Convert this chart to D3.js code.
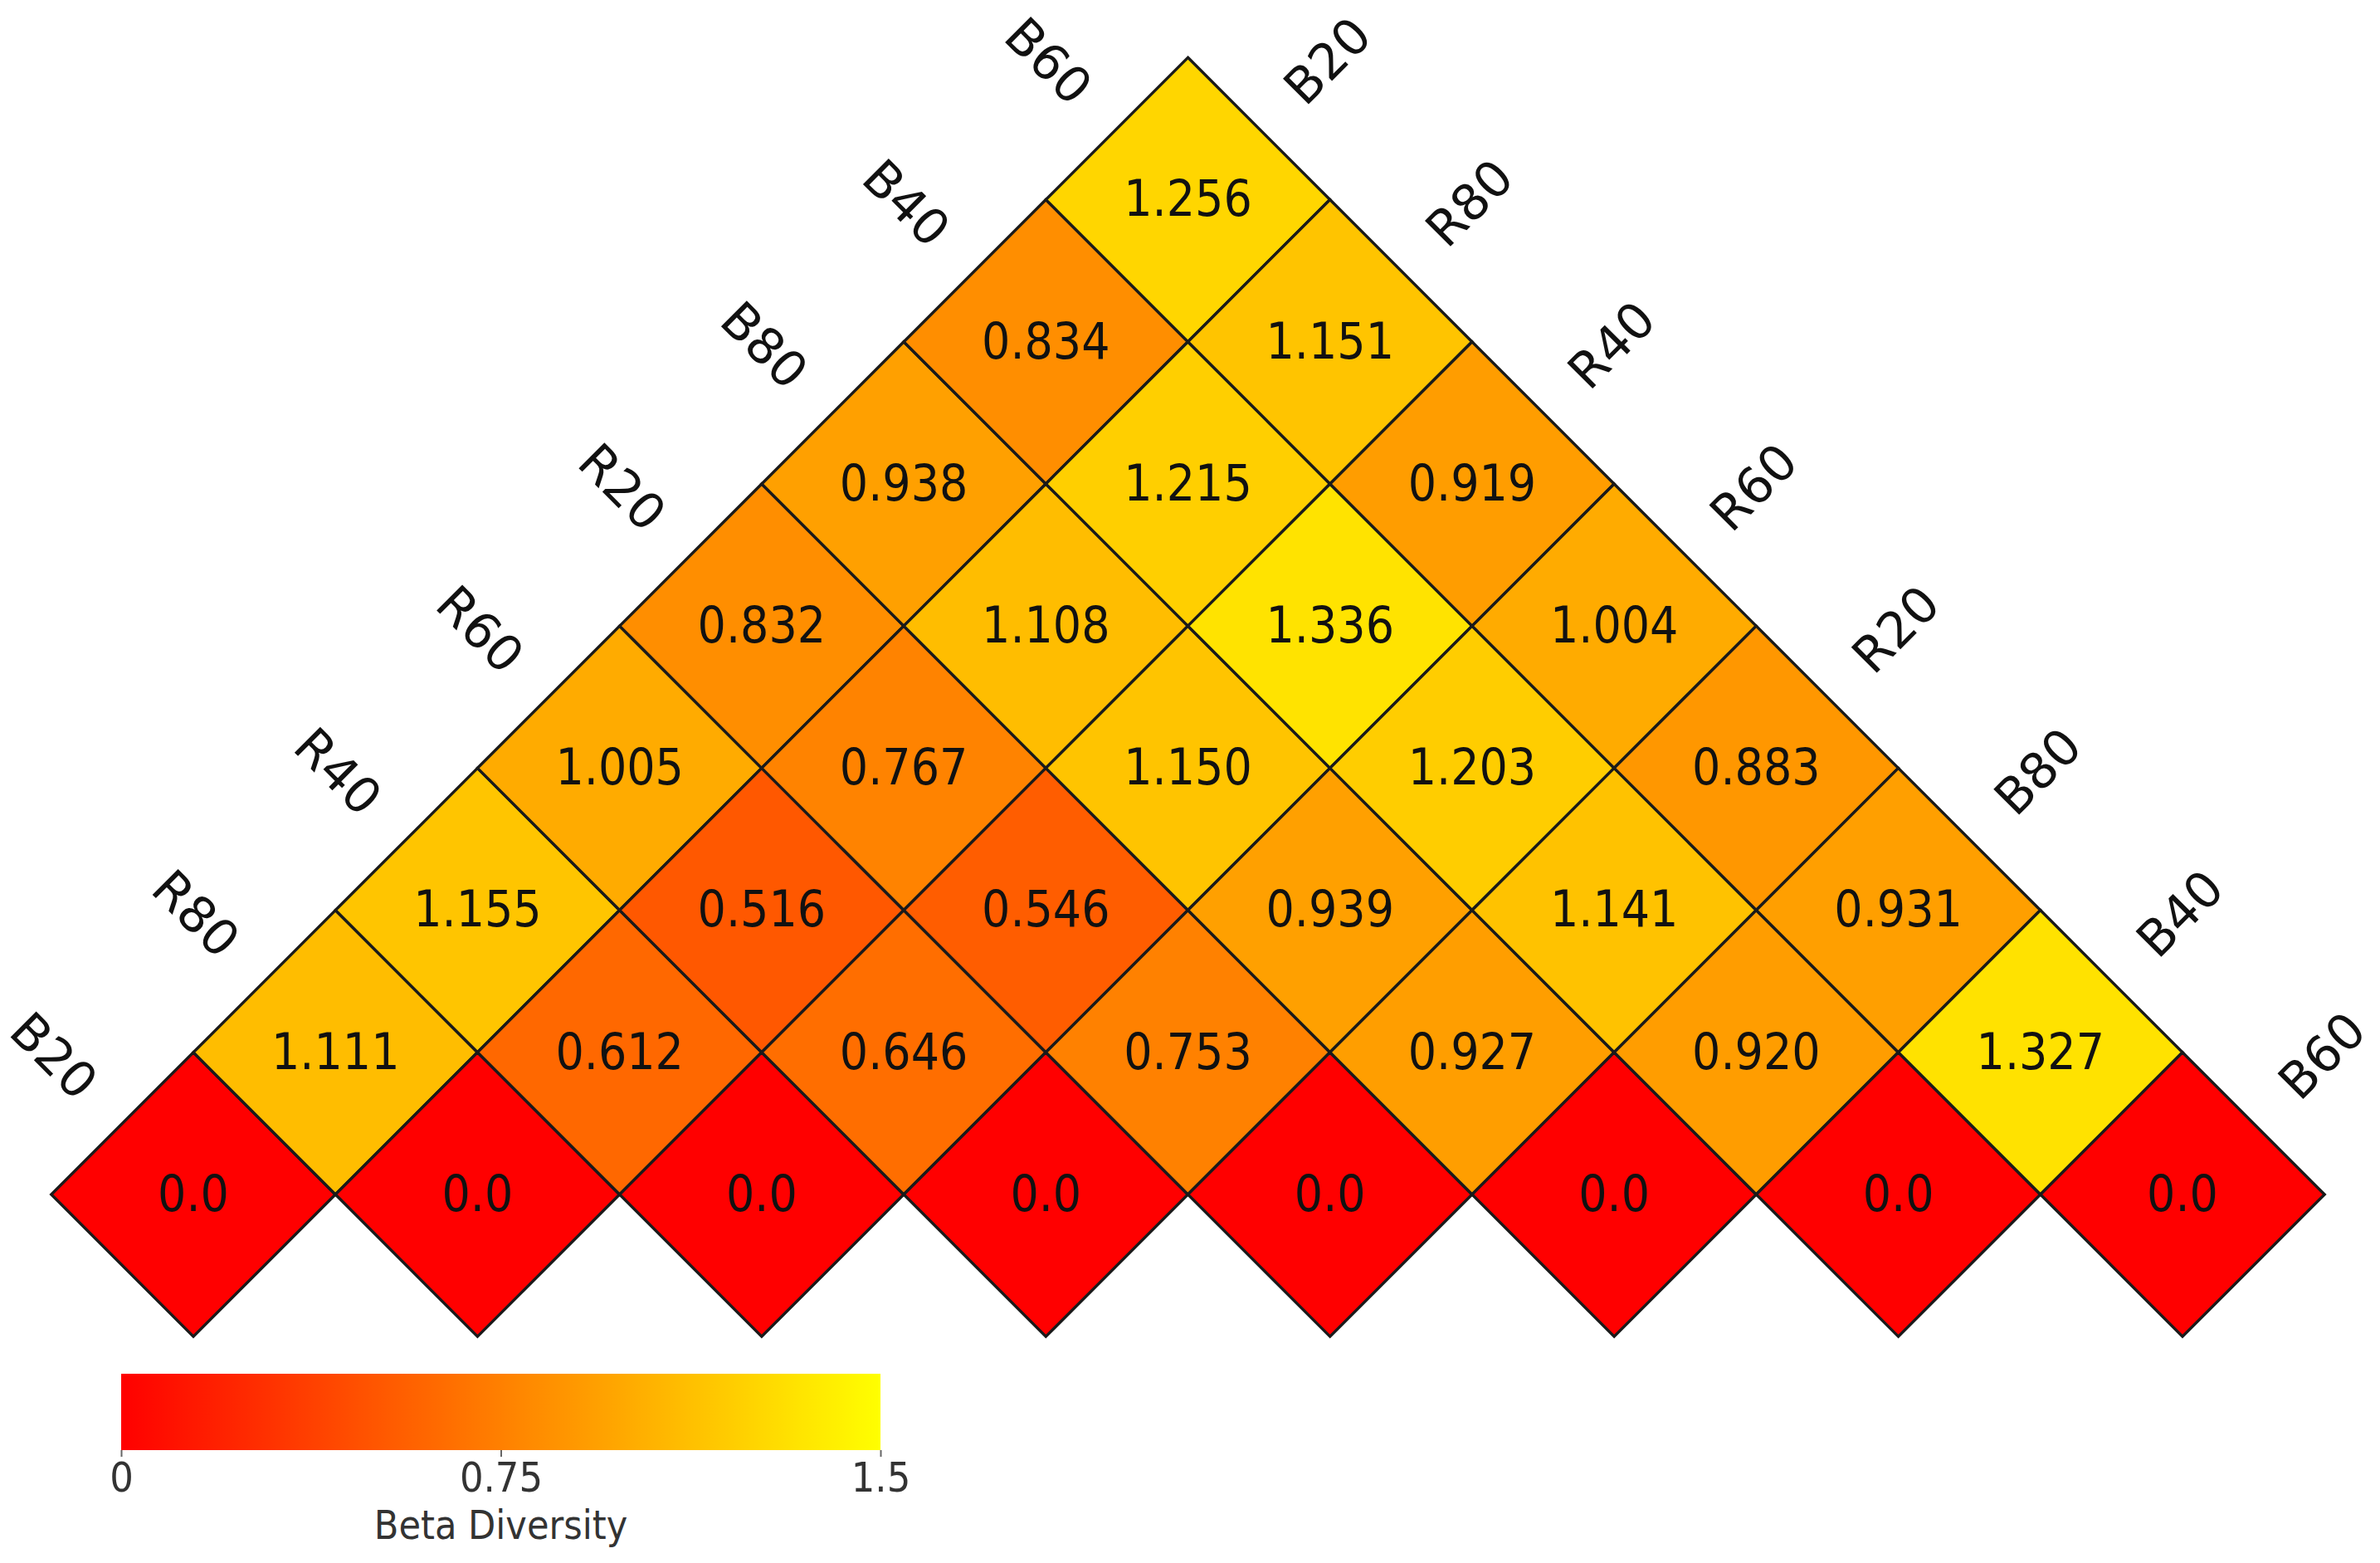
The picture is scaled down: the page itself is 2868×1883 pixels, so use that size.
<!DOCTYPE html>
<html><head><meta charset="utf-8">
<script src="https://cdn.jsdelivr.net/npm/d3@7"></script>
<style>
html,body{margin:0;padding:0;background:#fff;}
svg text{font-family:"DejaVu Sans Condensed","DejaVu Sans",sans-serif;font-stretch:condensed;}
svg text.lab{font-family:"DejaVu Sans",sans-serif;font-stretch:normal;}
</style></head>
<body><svg id="c" width="2868" height="1883"></svg>
<script>
const items = ["B20","R80","R40","R60","R20","B80","B40","B60"];
// upper triangle rows: values[i][j-i] for j>=i
const rowB20 = [0.0, 1.111, 1.155, 1.005, 0.832, 0.938, 0.834, 1.256];
const rowR80 = [0.0, 0.612, 0.516, 0.767, 1.108, 1.215, 1.151];
const rowR40 = [0.0, 0.646, 0.546, 1.150, 1.336, 0.919];
const rowR60 = [0.0, 0.753, 0.939, 1.203, 1.004];
const rowR20 = [0.0, 0.927, 1.141, 0.883];
const rowB80 = [0.0, 0.920, 0.931];
const rowB40 = [0.0, 1.327];
const rowB60 = [0.0];
const rows = [rowB20,rowR80,rowR40,rowR60,rowR20,rowB80,rowB40,rowB60];
const legendTicks = [0, 0.75, 1.5];
const legendTickLabels = ["0","0.75","1.5"];
const legendTitle = "Beta Diversity";

const cells = [];
rows.forEach((r,i)=>r.forEach((v,k)=>cells.push({i, j:i+k, v})));

const svg = d3.select("#c");
const x = d3.scalePoint().domain(items).range([233, 2630]);
const half = x.step()/2;
const y = d3.scaleLinear().domain([0, 7]).range([1439, 1439 - 7*half]);
const color = d3.scaleLinear().domain([0, 0.75, 1.5]).range(["#ff0000","#ff8000","#ffff00"]);

const g = svg.append("g");
const cg = g.selectAll("g.cell").data(cells).join("g")
  .attr("transform", d => `translate(${(x(items[d.i])+x(items[d.j]))/2},${y(d.j-d.i)})`);
cg.append("path")
  .attr("d", `M0,${-half}L${half},0L0,${half}L${-half},0Z`)
  .attr("fill", d => color(d.v))
  .attr("stroke", "#1a1a1a").attr("stroke-width", 3.4).attr("stroke-linejoin","miter");
cg.append("text")
  .attr("text-anchor","middle").attr("dy","0.33em")
  .attr("font-size", 60).attr("fill","#111")
  .text(d => d.i===d.j ? "0.0" : d.v.toFixed(3));

// left labels (column items)
const off = 82;
g.selectAll("text.ll").data(items).join("text").attr("class","ll lab")
  .attr("transform", (d,j) => {
    const cx = (x(items[0])+x(d))/2 - half/2 - off;
    const cy = y(j) - half/2 - off;
    return `translate(${cx},${cy}) rotate(45)`;
  })
  .attr("text-anchor","middle").attr("dy","0.36em").attr("font-size",60).attr("fill","#111")
  .text(d=>d);
// right labels (row items)
g.selectAll("text.rl").data(items).join("text").attr("class","rl lab")
  .attr("transform", (d,i) => {
    const cx = (x(d)+x(items[7]))/2 + half/2 + off;
    const cy = y(7-i) - half/2 - off;
    return `translate(${cx},${cy}) rotate(-45)`;
  })
  .attr("text-anchor","middle").attr("dy","0.36em").attr("font-size",60).attr("fill","#111")
  .text(d=>d);

// legend
const lx = d3.scaleLinear().domain([0,1.5]).range([146,1061]);
const defs = svg.append("defs");
const grad = defs.append("linearGradient").attr("id","lg");
d3.range(0,1.5001,0.075).forEach(t=>grad.append("stop").attr("offset",(t/1.5)).attr("stop-color",color(t)));
svg.append("rect").attr("x",lx(0)).attr("y",1655).attr("width",lx(1.5)-lx(0)).attr("height",92).attr("fill","url(#lg)");
const ax = svg.append("g").attr("transform","translate(0,1747)")
  .call(d3.axisBottom(lx).tickValues(legendTicks).tickFormat((d,i)=>legendTickLabels[i]).tickSize(8).tickPadding(6));
ax.select(".domain").remove();
ax.selectAll("line").attr("stroke","#666").attr("stroke-width",2);
ax.selectAll("text").attr("font-size",50).attr("fill","#333").attr("font-family",null);
svg.append("text").attr("x",lx(0.75)).attr("y",1854).attr("text-anchor","middle")
  .attr("font-size",48).attr("fill","#333").text(legendTitle);
</script></body></html>
